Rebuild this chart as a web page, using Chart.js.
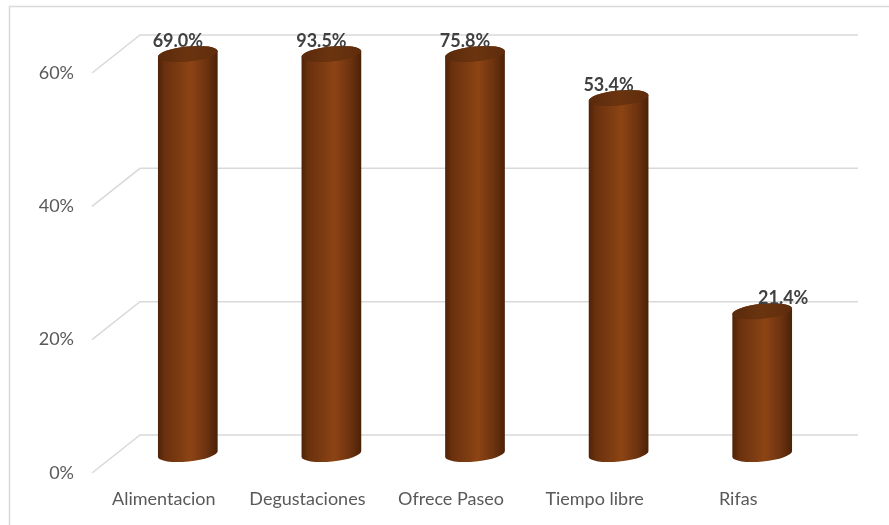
<!DOCTYPE html>
<html>
<head>
<meta charset="utf-8">
<script src="https://cdn.jsdelivr.net/npm/chart.js@4.4.0/dist/chart.umd.min.js"></script>
<style>
  html, body { margin: 0; padding: 0; background: #fff; overflow: hidden; }
  canvas { display: block; }
</style>
</head>
<body>
<canvas id="cilindros" width="889" height="525"></canvas>
<script>
const categorias = ['Alimentacion', 'Degustaciones', 'Ofrece Paseo', 'Tiempo libre', 'Rifas'];
const porcentajes = [69.0, 93.5, 75.8, 53.4, 21.4];
const ejeMax = 60;
const ejePaso = 20;

// depth of the 3d box: back wall is up/right, floor front is down/left
const fondo = { dx: 24, dy: -19 };
const etiquetaDx = [-10, -10, -10, -10, 21];

const grisLinea = '#d9d9d9';

const caja3d = {
  id: 'caja3d',
  beforeDraw(chart) {
    const ctx = chart.ctx;
    ctx.save();
    ctx.strokeStyle = grisLinea;
    ctx.lineWidth = 1.5;
    ctx.strokeRect(9.5, 6.5, 1000, 1000);
    ctx.restore();
  },
  beforeDatasetsDraw(chart) {
    const ctx = chart.ctx;
    const y = chart.scales.y;
    const area = chart.chartArea;
    ctx.save();
    ctx.strokeStyle = grisLinea;
    ctx.lineWidth = 1.5;
    y.ticks.forEach(t => {
      const py = y.getPixelForValue(t.value);
      ctx.beginPath();
      ctx.moveTo(area.left - fondo.dx, py - fondo.dy);
      ctx.lineTo(area.left + fondo.dx, py + fondo.dy);
      ctx.lineTo(area.right + fondo.dx, py + fondo.dy);
      ctx.stroke();
    });
    ctx.restore();
  },
  afterDatasetsDraw(chart) {
    const ctx = chart.ctx;
    const area = chart.chartArea;
    const meta = chart.getDatasetMeta(0);
    const rot = -0.1;
    meta.data.forEach((bar, i) => {
      const cx = bar.x;
      const rx = bar.width / 2;
      const ry = 7.5;
      const top = Math.max(bar.y, area.top);
      const base = bar.base;

      const g = ctx.createLinearGradient(cx - rx, 0, cx + rx, 0);
      g.addColorStop(0, '#4e2307');
      g.addColorStop(0.12, '#6a310e');
      g.addColorStop(0.55, '#8c4414');
      g.addColorStop(0.82, '#6c3210');
      g.addColorStop(1, '#4a2107');

      ctx.save();
      ctx.beginPath();
      ctx.ellipse(cx, base, rx, ry, rot, Math.PI, 0, true);
      ctx.ellipse(cx, top, rx, ry, rot, 0, Math.PI, true);
      ctx.closePath();
      ctx.fillStyle = g;
      ctx.fill();

      const gt = ctx.createLinearGradient(cx - rx, 0, cx + rx, 0);
      gt.addColorStop(0, '#5a2a0c');
      gt.addColorStop(0.5, '#6b340f');
      gt.addColorStop(1, '#5e2c0c');
      ctx.beginPath();
      ctx.ellipse(cx, top, rx, ry, rot, 0, Math.PI * 2);
      ctx.fillStyle = gt;
      ctx.fill();

      ctx.font = 'bold 18px Lato';
      ctx.fillStyle = '#404040';
      ctx.textAlign = 'center';
      ctx.textBaseline = 'middle';
      ctx.fillText(porcentajes[i].toFixed(1) + '%', cx + etiquetaDx[i], top - 13);
      ctx.restore();
    });
  }
};

new Chart(document.getElementById('cilindros').getContext('2d'), {
  type: 'bar',
  data: {
    labels: categorias,
    datasets: [{
      data: porcentajes,
      backgroundColor: 'rgba(0,0,0,0)',
      barThickness: 60
    }]
  },
  options: {
    responsive: false,
    animation: false,
    layout: { padding: { top: 54, right: 55, left: 0, bottom: 0 } },
    plugins: {
      legend: { display: false },
      tooltip: { enabled: false }
    },
    scales: {
      y: {
        min: 0,
        max: ejeMax,
        border: { display: false },
        grid: { display: false, drawTicks: false },
        afterFit(scale) { scale.width = 116; },
        ticks: {
          stepSize: ejePaso,
          padding: 42,
          labelOffset: 19,
          color: '#595959',
          font: { family: 'Lato', size: 18 },
          callback: v => v + '%'
        }
      },
      x: {
        border: { display: false },
        grid: { display: false, drawTicks: false },
        afterFit(scale) { scale.height = 71; },
        ticks: {
          padding: 34,
          labelOffset: -24,
          color: '#595959',
          font: { family: 'Lato', size: 18 }
        }
      }
    }
  },
  plugins: [caja3d]
});
</script>
</body>
</html>
